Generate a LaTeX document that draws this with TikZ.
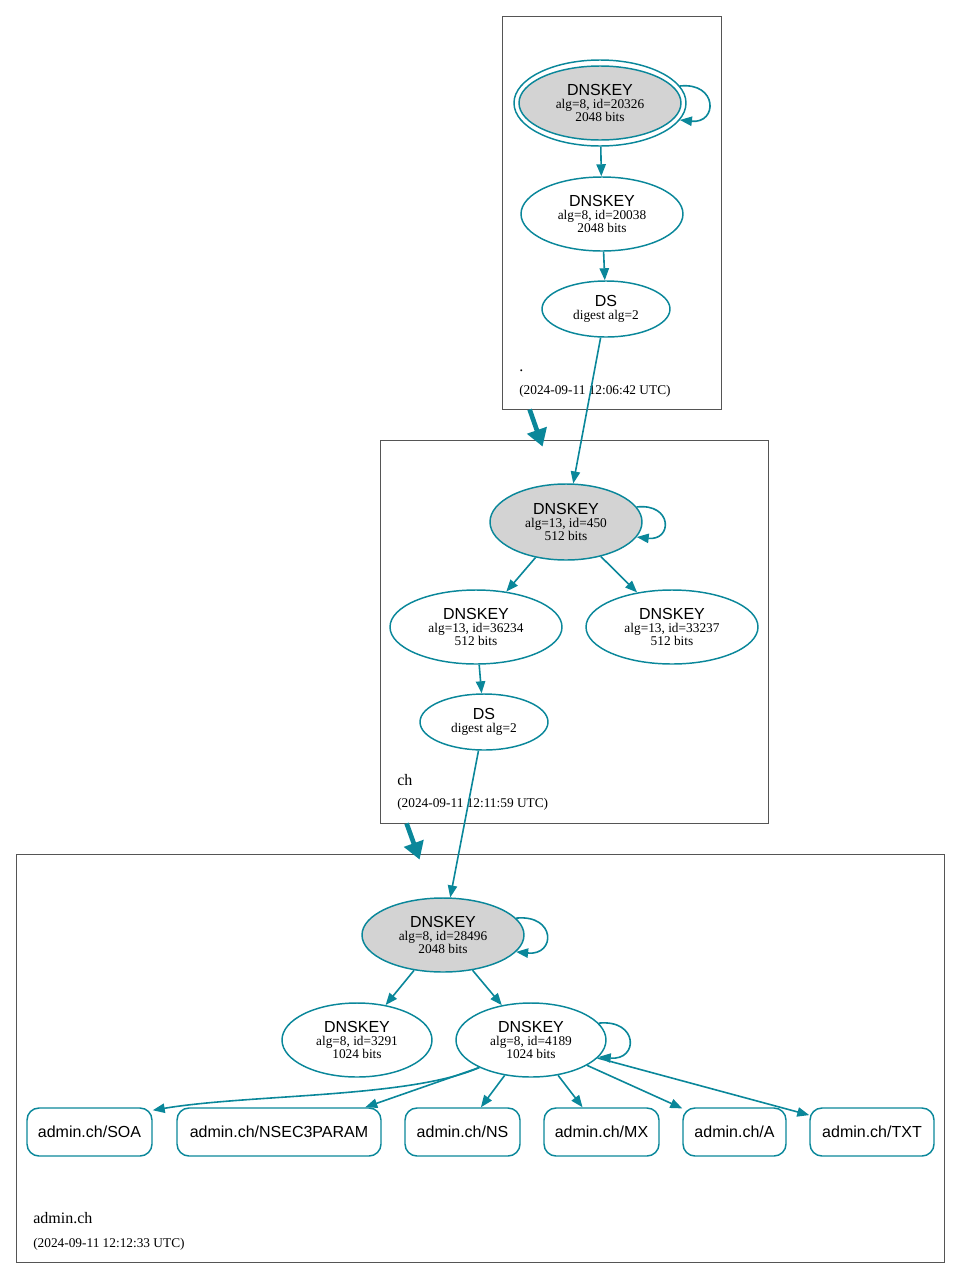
\documentclass[tikz,border=0pt]{standalone}
\usepackage{fontspec}
\setmainfont{Liberation Serif}
\setsansfont{Liberation Sans}
\usetikzlibrary{arrows.meta,shapes,fit,calc}

\definecolor{secure}{HTML}{0A879A}
\definecolor{keyfill}{HTML}{D3D3D3}
\definecolor{zoneline}{HTML}{555555}

\tikzset{
  dnskey/.style={ellipse, draw=secure, line width=1.1pt, inner sep=0pt,
    align=center, font=\fontsize{10}{9.75}\selectfont},
  ksk/.style={dnskey, fill=keyfill},
  rrset/.style={rectangle, rounded corners=9pt, draw=secure, line width=1.1pt,
    minimum height=36pt, inner sep=0pt, font=\sffamily\fontsize{12}{14}\selectfont},
  zone/.style={draw=zoneline, line width=0.6pt, inner sep=0pt},
  signs/.style={draw=secure, line width=1.2pt, -{Triangle[length=9pt,width=7pt]}},
  delegation/.style={draw=secure, line width=3.5pt, -{Triangle[length=13pt,width=15pt]}},
  zonename/.style={anchor=base west, inner sep=0pt, font=\fontsize{12}{14}\selectfont},
  zonedate/.style={anchor=base west, inner sep=0pt, font=\fontsize{10}{12}\selectfont},
}

\newcommand{\keylabel}[3]{{\sffamily\fontsize{12}{9.75}\selectfont DNSKEY}\\ alg=#1, id=#2\\ #3 bits}
\newcommand{\dslabel}[1]{{\sffamily\fontsize{12}{9.75}\selectfont DS}\\ digest alg=#1}

\begin{document}
\begin{tikzpicture}[x=0.75pt, y=-0.75pt]
  \useasboundingbox (0,0) rectangle (960,1278);

  % zones
  \node [zone, fit={(502,16) (721,409)}]  (rootzone)  {};
  \node [zone, fit={(380,440) (768,823)}] (chzone)    {};
  \node [zone, fit={(16,854) (944,1262)}] (adminzone) {};

  \node [zonename] (rootname)  at (519,371)  {.};
  \node [zonedate] (rootdate)  at (519,394)  {(2024-09-11 12:06:42 UTC)};
  \node [zonename] (chname)    at (397,785)  {ch};
  \node [zonedate] (chdate)    at (397,807)  {(2024-09-11 12:11:59 UTC)};
  \node [zonename] (adminname) at (33,1223)  {admin.ch};
  \node [zonedate] (admindate) at (33,1247)  {(2024-09-11 12:12:33 UTC)};

  % root zone
  \node [dnskey, minimum width=129pt, minimum height=64.5pt] (rootksk-ring) at (600,103) {};
  \node [ksk, minimum width=121.5pt, minimum height=55.5pt] (rootksk) at (600,103) {\keylabel{8}{20326}{2048}};
  \node [dnskey, minimum width=121.5pt, minimum height=55.5pt] (rootzsk) at (602,214) {\keylabel{8}{20038}{2048}};
  \node [dnskey, minimum width=96pt, minimum height=42pt] (chds) at (606,309) {\dslabel{2}};

  % ch zone
  \node [ksk, minimum width=114pt, minimum height=57pt] (chksk) at (566,522) {\keylabel{13}{450}{512}};
  \node [dnskey, minimum width=129pt, minimum height=55.5pt] (chzsk) at (476,627) {\keylabel{13}{36234}{512}};
  \node [dnskey, minimum width=129pt, minimum height=55.5pt] (chzsk2) at (672,627) {\keylabel{13}{33237}{512}};
  \node [dnskey, minimum width=96pt, minimum height=42pt] (adminds) at (484,722) {\dslabel{2}};

  % admin.ch zone
  \node [ksk, minimum width=121.5pt, minimum height=55.5pt] (adminksk) at (443,935) {\keylabel{8}{28496}{2048}};
  \node [dnskey, minimum width=112.5pt, minimum height=55.5pt] (adminzsk2) at (357,1040) {\keylabel{8}{3291}{1024}};
  \node [dnskey, minimum width=112.5pt, minimum height=55.5pt] (adminzsk) at (531,1040) {\keylabel{8}{4189}{1024}};

  \node [rrset, minimum width=93.75pt] (soa)        at (89.5,1132)  {admin.ch/SOA};
  \node [rrset, minimum width=153pt]   (nsec3param) at (279,1132)   {admin.ch/NSEC3PARAM};
  \node [rrset, minimum width=86.25pt] (ns)         at (462.5,1132) {admin.ch/NS};
  \node [rrset, minimum width=86.25pt] (mx)         at (601.5,1132) {admin.ch/MX};
  \node [rrset, minimum width=77.25pt] (a)          at (734.5,1132) {admin.ch/A};
  \node [rrset, minimum width=93pt]    (txt)        at (872,1132)   {admin.ch/TXT};

  % delegations
  \coordinate (rootout)  at ($(rootzone.south west)+(28,0)$);
  \coordinate (chin)     at ($(chzone.north west)+(163,7)$);
  \coordinate (chout)    at ($(chzone.south west)+(27,0)$);
  \coordinate (adminin)  at ($(adminzone.north west)+(404,6)$);
  \draw [delegation] (rootout) -- (chin);
  \draw [delegation] (chout) -- (adminin);

  % signatures and digests
  \draw [signs] (rootksk-ring.12) .. controls +(38,-4) and +(38,4) .. (rootksk-ring.-12);
  \draw [signs] (rootksk-ring) -- (rootzsk);
  \draw [signs] (rootzsk) -- (chds);
  \draw [signs] (chds) -- (chksk);

  \draw [signs] (chksk.12) .. controls +(36,-4) and +(36,4) .. (chksk.-12);
  \draw [signs] (chksk) -- (chzsk);
  \draw [signs] (chksk) -- (chzsk2);
  \draw [signs] (chzsk) -- (adminds);
  \draw [signs] (adminds) -- (adminksk);

  \draw [signs] (adminksk.13) .. controls +(40,-4) and +(40,4) .. (adminksk.-13);
  \draw [signs] (adminksk) -- (adminzsk2);
  \draw [signs] (adminksk) -- (adminzsk);

  \draw [signs] (adminzsk.14) .. controls +(40,-4) and +(40,4) .. (adminzsk.-14);
  \draw [signs] (adminzsk.208) .. controls (410,1098) and (250,1094) .. (soa.19);
  \draw [signs] (adminzsk.208) -- (nsec3param.16.5);
  \draw [signs] (adminzsk) -- (ns);
  \draw [signs] (adminzsk) -- (mx);
  \draw [signs] (adminzsk) -- (a);
  \draw [signs] (adminzsk) -- (txt);
\end{tikzpicture}
\end{document}
